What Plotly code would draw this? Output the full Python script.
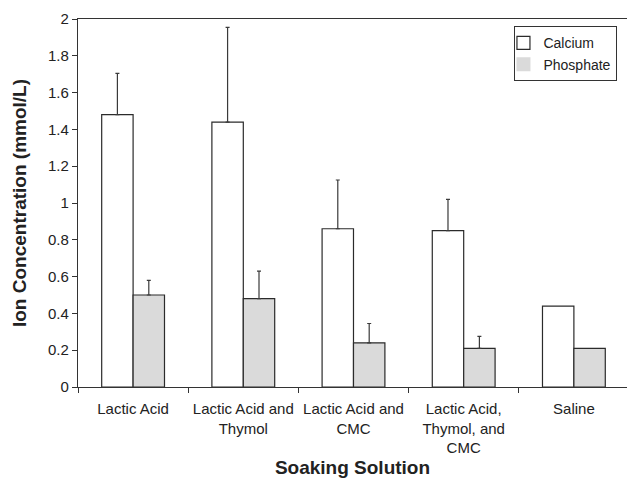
import numpy as np
import plotly.graph_objects as go

# Soaking solutions and measured ion concentrations (mmol/L)
solutions = [
    "Lactic Acid",
    "Lactic Acid and<br>Thymol",
    "Lactic Acid and<br>CMC",
    "Lactic Acid,<br>Thymol, and<br>CMC",
    "Saline",
]
calcium = [1.48, 1.44, 0.86, 0.85, 0.44]
calcium_err = [0.225, 0.515, 0.265, 0.17, None]
phosphate = [0.50, 0.48, 0.24, 0.21, 0.21]
phosphate_err = [0.08, 0.15, 0.105, 0.065, None]

y_ticks = [0, 0.2, 0.4, 0.6, 0.8, 1.0, 1.2, 1.4, 1.6, 1.8, 2.0]
y_labels = ["0", "0.2", "0.4", "0.6", "0.8", "1", "1.2", "1.4", "1.6", "1.8", "2"]

FONT = "Liberation Sans, Arial, Helvetica, sans-serif"
EDGE = "#2b2b2b"
GRAY = "#dadada"


def upper(errs):
    # missing errors become NaN so no whisker or cap is drawn there
    return np.array(errs, dtype=float)


def lower(errs):
    # one-sided bars: zero-length lower whisker, none where error is missing
    return np.array([0.0 if e is not None else np.nan for e in errs])


fig = go.Figure()

fig.add_trace(go.Bar(
    x=solutions, y=calcium, name="Calcium", showlegend=False,
    marker=dict(color="white", line=dict(color=EDGE, width=1.2)),
    error_y=dict(type="data", array=upper(calcium_err), symmetric=False,
                 arrayminus=lower(calcium_err), color="#3a3a3a",
                 thickness=1.2, width=2),
))
fig.add_trace(go.Bar(
    x=solutions, y=phosphate, name="Phosphate", showlegend=False,
    marker=dict(color=GRAY, line=dict(color=EDGE, width=1.2)),
    error_y=dict(type="data", array=upper(phosphate_err), symmetric=False,
                 arrayminus=lower(phosphate_err), color="#3a3a3a",
                 thickness=1.2, width=2),
))

# Legend entries: outlined box for calcium, plain gray swatch for phosphate
fig.add_trace(go.Scatter(
    x=[None], y=[None], name="Calcium", mode="markers",
    marker=dict(symbol="square", size=13, color="white",
                line=dict(color=EDGE, width=1.2)),
))
fig.add_trace(go.Scatter(
    x=[None], y=[None], name="Phosphate", mode="markers",
    marker=dict(symbol="square", size=14, color=GRAY, line=dict(width=0)),
))

fig.update_layout(
    width=627, height=478,
    margin=dict(l=78, r=0, t=19, b=91),
    paper_bgcolor="white", plot_bgcolor="white",
    barmode="group", bargap=0.43, bargroupgap=0,
    font=dict(family=FONT, size=15, color="#222"),
    legend=dict(
        x=0.795, y=0.98, xanchor="left", yanchor="top",
        bordercolor="#333", borderwidth=1, bgcolor="white",
        font=dict(size=14), tracegroupgap=0,
        itemwidth=30, indentation=-12,
    ),
    xaxis=dict(
        type="category", range=[-0.5, 4.482], automargin=False,
        showline=True, linecolor="#333", linewidth=1.2, mirror=True,
        ticks="outside", tickson="boundaries", ticklen=5,
        tickcolor="#333", tickfont=dict(size=15), tickangle=0,
        ticklabelstandoff=8,
        showgrid=False, zeroline=False,
        title=dict(text="<b>Soaking Solution</b>",
                   font=dict(size=19), standoff=6),
    ),
    yaxis=dict(
        range=[0, 2], tickvals=y_ticks, ticktext=y_labels, automargin=False,
        showline=True, linecolor="#333", linewidth=1.2,
        ticks="outside", ticklen=5, tickcolor="#333",
        tickfont=dict(size=15),
        showgrid=False, zeroline=False,
        title=dict(text="<b>Ion Concentration (mmol/L)</b>",
                   font=dict(size=19), standoff=16),
    ),
)

fig.write_html("out.html")
